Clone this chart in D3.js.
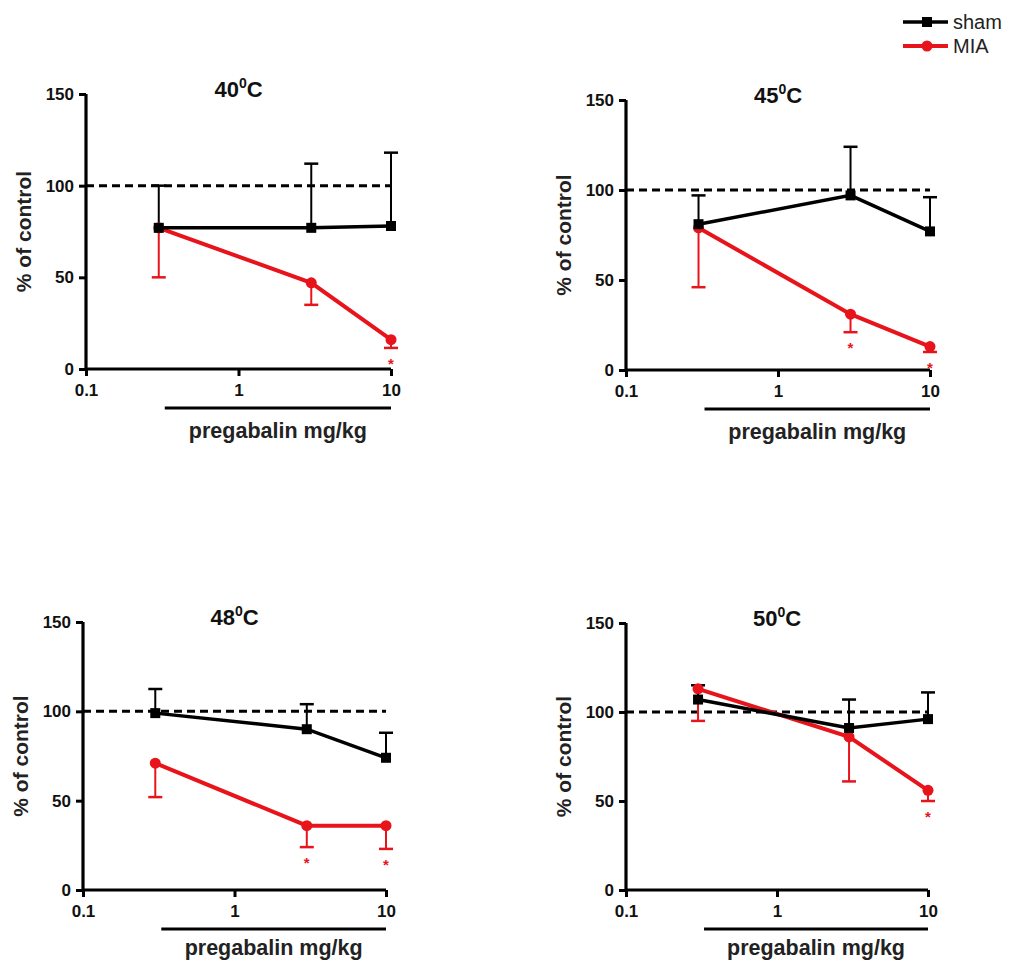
<!DOCTYPE html>
<html>
<head>
<meta charset="utf-8">
<script src="https://cdn.jsdelivr.net/npm/d3@7/dist/d3.min.js"></script>
<style>
  html, body { margin: 0; padding: 0; background: #fff; }
  svg { display: block; font-family: "Liberation Sans", Arial, sans-serif; }
</style>
</head>
<body>
<svg id="chart" width="1018" height="962"></svg>
<script>
// ---- data ----
const doses = [0.3, 3, 10];
const temps = ["40", "45", "48", "50"];
const xTicks = [0.1, 1, 10];
const xTickLabels = ["0.1", "1", "10"];
const yTicks = [0, 50, 100, 150];
const seriesNames = ["sham", "MIA"];

const sham40 = [77, 77, 78];   const sham40Err = [23, 35, 40];
const mia40  = [77, 47, 16];   const mia40Err  = [27, 12, 4.5];
const sham45 = [81, 97, 77];   const sham45Err = [16, 27, 19];
const mia45  = [79, 31, 13];   const mia45Err  = [33, 10, 3];
const sham48 = [99, 90, 74];   const sham48Err = [13.5, 14, 14];
const mia48  = [71, 36, 36];   const mia48Err  = [19, 12, 13];
const sham50 = [107, 91, 96];  const sham50Err = [8, 16, 15];
const mia50  = [113, 86, 56];  const mia50Err  = [18, 25, 6];

const star40 = [false, false, true];
const star45 = [false, true, true];
const star48 = [false, true, true];
const star50 = [false, false, true];

const panelData = [
  {temp: temps[0], sham: sham40, shamErr: sham40Err, mia: mia40, miaErr: mia40Err, star: star40},
  {temp: temps[1], sham: sham45, shamErr: sham45Err, mia: mia45, miaErr: mia45Err, star: star45},
  {temp: temps[2], sham: sham48, shamErr: sham48Err, mia: mia48, miaErr: mia48Err, star: star48},
  {temp: temps[3], sham: sham50, shamErr: sham50Err, mia: mia50, miaErr: mia50Err, star: star50}
];

// ---- layout (pixels) ----
const layout = [
  {x0: 86,  x1: 391, y0: 369, y1: 94,  lab: 30},
  {x0: 626, x1: 930, y0: 370, y1: 100, lab: 30},
  {x0: 83,  x1: 386, y0: 890, y1: 622, lab: 26},
  {x0: 626, x1: 928, y0: 890, y1: 623, lab: 26}
];

const BLACK = "#000";
const RED = "#e8141b";
const svg = d3.select("#chart");

panelData.forEach((pd, i) => {
  const L = layout[i];
  const x = d3.scaleLog().domain([0.1, 10]).range([L.x0, L.x1]);
  const y = d3.scaleLinear().domain([0, 150]).range([L.y0, L.y1]);
  const g = svg.append("g");

  // reference dashed line at 100
  g.append("line")
    .attr("x1", x(0.1)).attr("x2", x(10))
    .attr("y1", y(100)).attr("y2", y(100))
    .attr("stroke", BLACK).attr("stroke-width", 3)
    .attr("stroke-dasharray", "8,5");

  // axes
  const yAxis = d3.axisLeft(y).tickValues(yTicks).tickSize(7).tickPadding(5).tickFormat(d3.format("d"));
  const xAxis = d3.axisBottom(x).tickValues(xTicks).tickSize(7).tickPadding(8)
    .tickFormat((d, j) => xTickLabels[j]);
  const gy = g.append("g").attr("transform", `translate(${L.x0},0)`).call(yAxis);
  const gx = g.append("g").attr("transform", `translate(0,${L.y0})`).call(xAxis);
  [gx, gy].forEach(a => {
    a.select(".domain").attr("stroke", BLACK).attr("stroke-width", 3.2);
    a.selectAll(".tick line").attr("stroke", BLACK).attr("stroke-width", 3);
    a.selectAll(".tick text").attr("fill", "#111").attr("font-size", 17).attr("font-weight", "bold")
      .attr("font-family", "'Liberation Sans', Arial, sans-serif");
  });
  gy.select(".domain").attr("d", `M-0,${y(150)}V${L.y0}`);
  gx.select(".domain").attr("d", `M${L.x0},0H${L.x1}`);

  // title
  const t = g.append("text")
    .attr("x", (L.x0 + L.x1) / 2).attr("y", y(150) + 3)
    .attr("text-anchor", "middle").attr("font-size", 22).attr("font-weight", "bold").attr("fill", "#111");
  t.append("tspan").text(pd.temp);
  t.append("tspan").text("0").attr("font-size", 14).attr("dy", -9);
  t.append("tspan").text("C").attr("dy", 9);

  // y label
  g.append("text")
    .attr("transform", `translate(${L.x0 - 55},${(y(0) + y(150)) / 2}) rotate(-90)`)
    .attr("text-anchor", "middle").attr("font-size", 21).attr("font-weight", "bold").attr("fill", "#222")
    .text("% of control");

  // dose bar and x label
  const barY = L.y0 + 39;
  const barX0 = x(doses[0]) + 6;
  g.append("line")
    .attr("x1", barX0).attr("x2", x(10)).attr("y1", barY).attr("y2", barY)
    .attr("stroke", BLACK).attr("stroke-width", 3);
  g.append("text")
    .attr("x", (barX0 + x(10)) / 2).attr("y", barY + L.lab)
    .attr("text-anchor", "middle").attr("font-size", 21.5).attr("font-weight", "bold").attr("fill", "#222")
    .text("pregabalin mg/kg");

  const line = d3.line().x(d => x(d[0])).y(d => y(d[1]));
  const cap = 7;

  // MIA error bars (downward)
  doses.forEach((d, j) => {
    const lo = pd.mia[j] - pd.miaErr[j];
    g.append("line").attr("x1", x(d)).attr("x2", x(d)).attr("y1", y(pd.mia[j])).attr("y2", y(lo))
      .attr("stroke", RED).attr("stroke-width", 2);
    g.append("line").attr("x1", x(d) - cap).attr("x2", x(d) + cap).attr("y1", y(lo)).attr("y2", y(lo))
      .attr("stroke", RED).attr("stroke-width", 2.5);
    if (pd.star[j]) {
      g.append("text").attr("x", x(d)).attr("y", y(lo) + 21)
        .attr("text-anchor", "middle").attr("font-size", 15).attr("font-weight", "bold")
        .attr("fill", RED).text("*");
    }
  });
  // sham error bars (upward)
  doses.forEach((d, j) => {
    const hi = pd.sham[j] + pd.shamErr[j];
    g.append("line").attr("x1", x(d)).attr("x2", x(d)).attr("y1", y(pd.sham[j])).attr("y2", y(hi))
      .attr("stroke", BLACK).attr("stroke-width", 2);
    g.append("line").attr("x1", x(d) - cap).attr("x2", x(d) + cap).attr("y1", y(hi)).attr("y2", y(hi))
      .attr("stroke", BLACK).attr("stroke-width", 2.5);
  });

  // MIA line + circles
  g.append("path").datum(doses.map((d, j) => [d, pd.mia[j]]))
    .attr("d", line).attr("fill", "none").attr("stroke", RED).attr("stroke-width", 4);
  g.selectAll(null).data(doses.map((d, j) => [d, pd.mia[j]])).enter().append("circle")
    .attr("cx", d => x(d[0])).attr("cy", d => y(d[1])).attr("r", 5.5).attr("fill", RED);

  // sham line + squares
  g.append("path").datum(doses.map((d, j) => [d, pd.sham[j]]))
    .attr("d", line).attr("fill", "none").attr("stroke", BLACK).attr("stroke-width", 3.5);
  g.selectAll(null).data(doses.map((d, j) => [d, pd.sham[j]])).enter().append("rect")
    .attr("x", d => x(d[0]) - 5).attr("y", d => y(d[1]) - 5).attr("width", 10).attr("height", 10).attr("fill", BLACK);
});

// legend
const legend = svg.append("g");
const legendColors = [BLACK, RED];
seriesNames.forEach((name, i) => {
  const ly = 22 + i * 24;
  legend.append("line").attr("x1", 903).attr("x2", 948).attr("y1", ly).attr("y2", ly)
    .attr("stroke", legendColors[i]).attr("stroke-width", i === 0 ? 3.5 : 4);
  if (i === 0) {
    legend.append("rect").attr("x", 922).attr("y", ly - 5).attr("width", 10).attr("height", 10).attr("fill", BLACK);
  } else {
    legend.append("circle").attr("cx", 927).attr("cy", ly).attr("r", 5.5).attr("fill", RED);
  }
  legend.append("text").attr("x", 953).attr("y", ly + 7).attr("font-size", 20).attr("fill", "#222").text(name);
});
</script>
</body>
</html>
